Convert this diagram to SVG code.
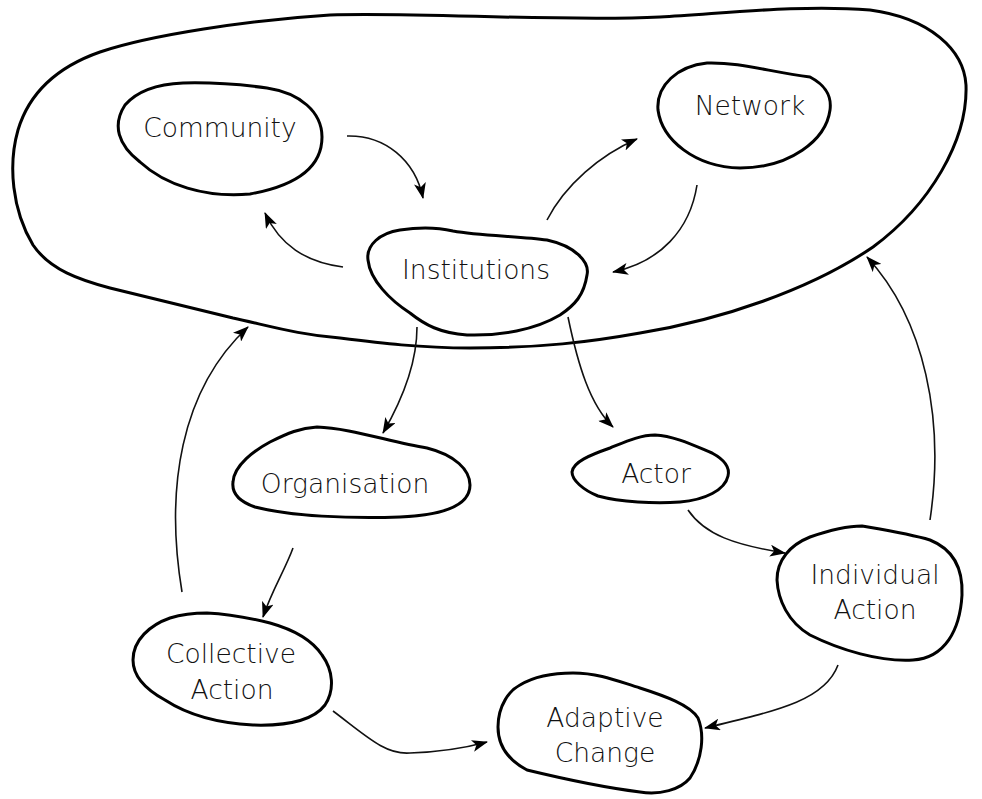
<svg xmlns="http://www.w3.org/2000/svg" width="982" height="799" viewBox="0 0 982 799">
  <style>
    .bg { fill: #ffffff; }
    .blob { fill: none; stroke: #000; stroke-width: 3; stroke-linejoin: round; }
    .edge { fill: none; stroke: #111; stroke-width: 1.6; }
    .t { font-family: "DejaVu Sans", "Liberation Sans", sans-serif; font-weight: 200; font-size: 26.5px; fill: #111; text-anchor: middle; }
  </style>
  <defs>
    <marker id="head" viewBox="0 0 16 12" markerWidth="16" markerHeight="12" refX="15" refY="6" orient="auto" markerUnits="userSpaceOnUse">
      <path d="M0,0 L16,6 L0,12 L4,6 Z" fill="#000"/>
    </marker>
  </defs>

  <rect class="bg" x="0" y="0" width="982" height="799"/>

  <!-- enclosing boundary -->
  <g id="boundary">
    <path class="blob" d="M 330,15 C 250,20 150,35 100,52 C 60,66 30,90 18,130 C 8,165 12,210 33,245 C 50,270 80,280 110,288 C 160,300 200,310 233,318 C 270,326 300,335 340,338 C 380,343 420,348 470,348 C 540,348 590,342 640,333 C 720,320 810,290 873,247 C 930,205 968,140 966,85 C 964,50 930,18 870,10 C 800,4 720,14 660,17 C 560,22 420,12 330,15 Z"/>
  </g>

  <g id="community">
    <path class="blob" d="M 183,83 C 220,82 245,85 267,88 C 300,93 322,112 322,137 C 322,165 300,185 250,194 C 205,198 165,185 140,162 C 118,145 112,125 125,105 C 138,90 160,84 183,83 Z"/>
    <text class="t" x="220" y="137">Community</text>
  </g>

  <g id="network">
    <path class="blob" d="M 707,63 C 740,62 770,72 810,77 C 825,85 832,95 830,110 C 826,140 790,168 740,168 C 695,167 662,140 658,110 C 656,85 678,66 707,63 Z"/>
    <text class="t" x="750" y="115">Network</text>
  </g>

  <g id="institutions">
    <path class="blob" d="M 400,230 C 420,227 440,228 453,231 C 480,236 520,236 547,240 C 575,246 590,262 587,275 C 584,295 575,305 560,315 C 535,330 500,336 467,335 C 440,333 425,325 410,313 C 390,300 370,280 368,260 C 366,245 380,233 400,230 Z"/>
    <text class="t" x="476" y="279">Institutions</text>
  </g>

  <g id="organisation">
    <path class="blob" d="M 317,427 C 350,428 390,442 427,448 C 455,455 470,470 470,485 C 470,505 445,515 400,517 C 350,519 290,516 255,507 C 235,500 232,490 233,482 C 234,465 255,450 270,442 C 288,433 300,428 317,427 Z"/>
    <text class="t" x="345" y="493">Organisation</text>
  </g>

  <g id="actor">
    <path class="blob" d="M 655,435 C 675,436 695,446 712,453 C 725,460 730,468 728,476 C 725,490 705,500 680,502 C 655,504 620,502 598,496 C 583,490 572,480 572,472 C 573,462 590,455 610,448 C 625,442 640,435 655,435 Z"/>
    <text class="t" x="656" y="483">Actor</text>
  </g>

  <g id="individual-action">
    <path class="blob" d="M 862,526 C 885,530 910,534 930,540 C 955,550 963,570 962,595 C 960,630 945,658 913,660 C 880,662 840,650 810,635 C 788,622 778,600 777,580 C 777,560 790,545 810,537 C 830,530 848,526 862,526 Z"/>
    <text class="t" x="875" y="584">Individual</text>
    <text class="t" x="875" y="619">Action</text>
  </g>

  <g id="collective-action">
    <path class="blob" d="M 207,613 C 230,614 250,618 270,623 C 295,630 312,640 322,655 C 333,670 335,690 325,705 C 312,722 285,726 253,725 C 215,723 185,713 165,700 C 143,688 133,675 133,660 C 133,640 150,625 170,618 C 183,614 195,613 207,613 Z"/>
    <text class="t" x="231" y="663">Collective</text>
    <text class="t" x="232" y="699">Action</text>
  </g>

  <g id="adaptive-change">
    <path class="blob" d="M 573,673 C 600,673 620,682 640,688 C 665,696 690,705 698,718 C 705,735 702,760 690,778 C 680,790 660,795 640,792 C 600,787 560,778 527,770 C 508,760 498,745 498,727 C 498,705 510,690 520,685 C 535,676 555,673 573,673 Z"/>
    <text class="t" x="605" y="727">Adaptive</text>
    <text class="t" x="605" y="762">Change</text>
  </g>

  <!-- connectors -->
  <g id="connectors">
    <path class="edge" marker-end="url(#head)" d="M 347,136 C 385,135 415,160 423,198"/>
    <path class="edge" marker-end="url(#head)" d="M 343,267 C 305,262 280,245 265,213"/>
    <path class="edge" marker-end="url(#head)" d="M 547,220 C 565,185 600,155 637,139"/>
    <path class="edge" marker-end="url(#head)" d="M 697,185 C 690,230 660,262 613,272"/>
    <path class="edge" marker-end="url(#head)" d="M 417,327 C 417,360 405,395 383,433"/>
    <path class="edge" marker-end="url(#head)" d="M 568,317 C 578,365 590,405 613,427"/>
    <path class="edge" marker-end="url(#head)" d="M 688,510 C 705,535 735,545 785,553"/>
    <path class="edge" marker-end="url(#head)" d="M 293,548 C 285,570 272,590 263,617"/>
    <path class="edge" marker-end="url(#head)" d="M 182,592 C 165,490 180,390 248,327"/>
    <path class="edge" marker-end="url(#head)" d="M 930,520 C 945,420 925,320 867,257"/>
    <path class="edge" marker-end="url(#head)" d="M 333,711 C 365,735 385,755 410,753 C 440,752 465,748 487,742"/>
    <path class="edge" marker-end="url(#head)" d="M 838,665 C 825,700 780,710 705,728"/>
  </g>
</svg>
